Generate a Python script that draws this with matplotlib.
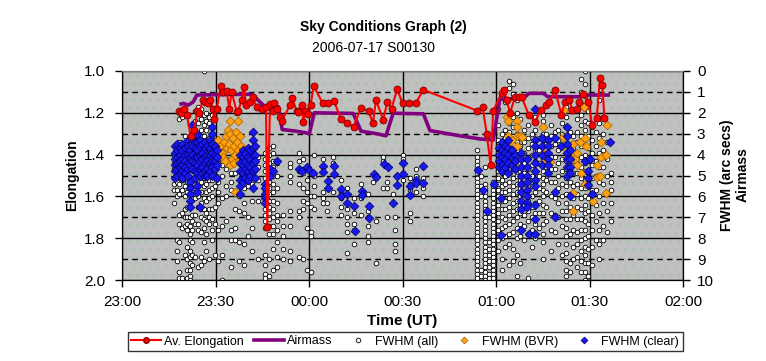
import matplotlib
matplotlib.use('Agg')
import matplotlib.pyplot as plt
from matplotlib.lines import Line2D
from matplotlib.patches import Rectangle

plt.rcParams['font.family'] = ['Liberation Sans', 'DejaVu Sans']

# time axis: minutes after 23:00 UT
time_ticks = [0, 30, 60, 90, 120, 150, 180]
time_labels = ['23:00', '23:30', '00:00', '00:30', '01:00', '01:30', '02:00']

# Av. Elongation (left axis)
elong_t = [18.4, 18.8, 19.9, 20.8, 22.0, 23.2, 24.2, 24.8, 25.9, 26.6, 27.7, 28.2, 29.1, 29.5,
           30.4, 31.7, 32.5, 33.6, 34.4, 35.2, 36.8, 37.3, 38.4, 39.1, 39.8, 41.1, 41.9, 43.2,
           44.8, 46.2, 46.6, 47.5, 48.3, 48.8, 49.6, 50.7, 51.2, 53.9, 54.6, 56.0, 56.6, 57.7,
           58.2, 58.9, 59.6, 60.5, 61.5, 64.4, 66.2, 68.0, 70.2, 72.2, 74.3, 76.6, 79.1, 80.5,
           81.5, 83.8, 85.1, 86.5, 88.3, 90.0, 92.2, 94.2, 96.7, 114.0, 115.7, 117.0, 118.3,
           119.1, 121.8, 122.7, 123.4, 124.5, 126.1, 127.3, 128.2, 130.5, 132.5, 134.4, 136.2,
           137.1, 138.9, 141.0, 142.1, 143.5, 144.5, 145.9, 146.7, 148.0, 149.6, 150.9, 152.3,
           153.4, 154.1, 154.8]
elong_v = [1.19, 1.20, 1.18, 1.21, 1.31, 1.28, 1.19, 1.20, 1.14, 1.15, 1.155, 1.14, 1.18, 1.23,
           1.18, 1.07, 1.10, 1.095, 1.18, 1.10, 1.195, 1.19, 1.14, 1.075, 1.165, 1.15, 1.125, 1.17,
           1.18, 1.17, 1.745, 1.16, 1.19, 1.155, 1.18, 1.22, 1.24, 1.165, 1.13, 1.19, 1.195, 1.165,
           1.245, 1.19, 1.205, 1.165, 1.07, 1.155, 1.152, 1.142, 1.23, 1.25, 1.266, 1.178, 1.19, 1.25,
           1.138, 1.234, 1.15, 1.18, 1.086, 1.155, 1.155, 1.155, 1.09, 1.19, 1.17, 1.30, 1.45,
           1.19, 1.105, 1.09, 1.14, 1.20, 1.125, 1.123, 1.123, 1.21, 1.243, 1.187, 1.163,
           1.15, 1.09, 1.21, 1.147, 1.14, 1.187, 1.18, 1.147, 1.11, 1.147, 1.26, 1.226,
           1.032, 1.067, 1.226]

# Airmass (right axis)
air_t = [18.4, 19.7, 21.3, 22.9, 24.0, 41.6, 45.9, 50.2, 51.4, 55.5, 58.7, 60.1, 61.7, 74.2,
         76.7, 81.7, 84.7, 87.0, 96.7, 98.8, 108.4, 114.8, 119.1, 121.2, 128.7, 130.6, 135.2,
         136.6, 146.9, 147.5, 156.6]
air_v = [1.6, 1.55, 1.63, 1.47, 1.15, 1.11, 1.71, 1.71, 2.8, 2.87, 2.95, 3.0, 2.0, 2.03,
         2.88, 3.0, 3.1, 2.02, 2.05, 2.85, 3.1, 3.25, 3.3, 1.35, 1.31, 1.07, 1.07,
         1.23, 1.23, 1.15, 1.15]

# FWHM (all) - one list of values per time column
all_t = [16.8, 17.6, 18.4, 19.3, 20.2, 21.0, 21.8, 22.6, 23.4, 24.3, 25.2, 26.2, 27.1, 28.0,
         28.9, 29.8, 30.9, 32.0, 33.5, 35.0, 36.3, 37.5, 39.0, 40.3, 41.8, 43.5, 46.0, 47.2,
         48.4, 49.7, 51.5, 53.9, 56.9, 58.2, 59.5, 60.5, 61.6, 64.4, 65.7, 67.8, 70.2, 72.3,
         74.4, 76.6, 79.0, 80.6, 81.5, 83.8, 85.1, 87.0, 87.6, 90.0, 92.4, 94.3, 96.7,
         113.8, 115.2, 116.4, 117.6, 119.0, 120.8, 121.9, 123.0, 124.2, 125.4, 126.6, 127.8,
         129.0, 130.2, 131.4, 132.6, 133.8, 135.0, 136.2, 137.5, 138.8, 140.0, 141.2, 142.4,
         143.6, 144.8, 146.0, 147.2, 148.4, 149.6, 150.8, 152.0, 153.2, 154.4, 155.6, 157.0]
all_f = [
    [4.0, 4.4, 4.7, 5.1, 5.4, 5.7, 6.3],
    [3.5, 3.9, 4.3, 4.6, 5.0, 5.3, 5.7, 6.0, 8.1, 8.6, 9.1],
    [2.0, 2.3, 3.4, 3.9, 4.4, 4.9, 5.4, 5.9, 6.9, 7.3, 8.2, 9.6, 9.9],
    [2.2, 3.6, 4.2, 4.8, 5.2, 5.7, 6.8, 7.5, 9.9],
    [3.1, 3.5, 4.6, 5.1, 5.5, 6.0, 6.6, 7.0, 7.4, 8.8],
    [4.8, 5.3, 5.8, 6.5, 7.0, 7.3, 7.6, 8.4, 9.0, 9.5, 9.9],
    [5.5, 6.2, 7.0, 7.4, 7.8, 8.1, 8.6, 8.9, 9.2, 9.5, 9.8, 10.0],
    [2.6, 3.0, 6.9, 7.2, 7.6, 8.2, 8.8, 9.3],
    [1.9, 2.4, 3.5, 4.4, 5.2, 5.6, 6.1, 6.9, 7.3, 8.9],
    [1.7, 2.0, 2.5, 3.0, 3.6, 4.0, 4.5, 5.0, 5.5, 6.0, 6.5, 7.3, 7.6, 9.4],
    [1.8, 2.3, 2.8, 3.3, 3.8, 4.3, 4.7, 5.3, 5.8, 6.3, 6.6, 7.0, 7.7, 8.9, 9.3],
    [0.0, 2.1, 2.6, 3.1, 3.6, 4.1, 4.6, 5.1, 5.5, 6.1, 6.6, 7.1, 7.5, 8.2, 9.1],
    [2.0, 2.4, 2.8, 3.4, 4.0, 4.4, 4.9, 5.4, 5.8, 6.2, 6.8, 7.2, 7.8, 8.6],
    [2.2, 2.5, 3.2, 3.7, 4.2, 4.8, 5.2, 5.7, 6.1, 6.6, 7.0, 7.3, 9.0],
    [2.1, 3.0, 3.5, 4.1, 4.7, 5.2, 5.6, 6.0, 6.6, 7.1, 7.6, 8.1],
    [3.3, 3.9, 4.5, 5.0, 5.5, 6.5, 7.3, 8.8],
    [4.3, 5.3, 5.8, 6.3, 7.6, 9.1],
    [4.5, 5.0, 6.1, 7.4, 8.8, 10.0],
    [4.2, 4.7, 5.5, 6.0, 7.2],
    [4.9, 5.3, 5.7, 7.6, 8.1, 9.4],
    [4.1, 4.9, 6.6, 7.5, 8.1],
    [6.0, 6.7, 8.2, 9.1],
    [5.6, 6.3, 6.8, 8.3, 9.3],
    [4.0, 4.6, 5.5, 7.0, 7.9],
    [4.8, 5.4, 6.2, 7.5, 8.6],
    [4.1, 4.6, 5.2, 6.2, 9.0],
    [3.9, 4.2, 4.5, 4.8, 5.1, 5.4, 5.7, 6.0, 6.3, 6.6, 6.9, 7.2, 7.5, 8.8, 9.3, 9.7, 9.9],
    [3.7, 4.0, 4.4, 4.7, 5.0, 5.3, 5.6, 5.9, 6.2, 6.5, 6.8, 7.1, 7.4, 7.8, 9.0, 9.8],
    [3.6, 3.9, 4.3, 4.6, 5.0, 5.4, 5.8, 6.2, 6.6, 7.0, 7.4, 7.8, 8.5, 9.5],
    [4.4, 5.0, 5.6, 6.3, 6.9, 7.2, 7.6, 8.2, 8.9, 9.4],
    [6.9, 7.4, 7.9, 8.5, 9.0],
    [4.4, 4.6, 5.0, 5.3, 6.7, 7.4, 8.6, 9.1],
    [3.9, 4.3, 4.8, 5.4, 6.7, 7.0, 8.9],
    [4.2, 4.9, 5.6, 6.2, 6.6, 9.0],
    [5.2, 5.8, 6.3, 7.5, 9.5],
    [6.0, 6.5, 7.7, 7.9, 9.6],
    [4.0, 5.0, 5.5, 6.0, 6.6],
    [4.2, 4.6, 5.8, 6.1, 6.3],
    [6.3, 6.7],
    [4.1, 4.4, 5.8],
    [5.2, 5.8, 6.1, 6.5, 6.9],
    [5.6, 6.6, 7.0, 7.3, 7.7, 8.7],
    [6.1, 6.8, 7.3, 7.6, 8.3],
    [5.4, 6.1, 6.9],
    [5.9, 6.7, 7.0, 7.4, 7.9, 8.2],
    [5.3],
    [7.2, 9.2],
    [4.1, 4.3, 5.6],
    [5.3, 5.6, 7.0],
    [5.9],
    [7.0, 7.6, 8.3, 8.6],
    [4.0, 4.2, 4.9, 5.2],
    [5.1, 5.4, 5.7, 6.8, 7.2],
    [4.7, 5.0, 5.3, 5.8],
    [5.1, 5.6, 6.0],
    [3.8, 4.1, 4.3, 4.5, 4.7, 4.9, 5.1, 5.3, 5.5, 5.7, 5.9, 6.1, 6.3, 6.5, 6.7, 6.9, 7.1,
     7.3, 7.5, 7.7, 7.9, 8.1, 8.3, 8.5, 8.7, 8.9, 9.1, 9.3, 9.5, 9.7, 9.9],
    [5.0, 5.5, 6.0, 9.5, 9.8],
    [4.6, 5.4, 5.6, 5.8, 6.0, 6.2, 6.4, 6.6, 6.8, 7.0, 7.2, 7.4, 7.6, 7.8, 8.0, 8.2, 8.4,
     8.6, 8.8, 9.0, 9.2, 9.4, 9.6, 9.8, 10.0],
    [7.0, 8.2, 8.5, 8.8, 9.1, 9.4, 9.7, 9.9],
    [5.3, 5.5, 5.7, 5.9, 6.1, 6.3, 6.5, 6.7, 6.9, 7.1, 7.3, 7.5, 7.7, 7.9, 8.1, 8.3, 8.5,
     8.7, 8.9, 9.1, 9.3, 9.5, 9.7, 9.9],
    [1.8, 2.6, 3.3, 3.6, 3.9, 4.2, 4.5, 4.8, 5.1, 5.4, 5.7, 6.0, 6.4, 6.8, 7.2, 7.6, 8.1, 8.6],
    [1.2, 3.0, 3.4, 3.7, 4.0, 4.3, 4.6, 4.9, 5.2, 5.5, 5.8, 6.2, 6.6, 7.0, 7.5, 8.0, 9.0, 9.5],
    [0.9, 1.5, 2.8, 3.2, 3.5, 3.9, 4.3, 4.7, 5.0, 5.4, 5.8, 6.2, 6.6, 7.1, 7.4, 7.9, 8.4],
    [0.5, 0.8, 2.5, 2.9, 3.3, 3.7, 4.1, 4.5, 4.9, 5.3, 5.7, 6.1, 6.5, 6.9, 7.3, 7.8, 8.3, 9.3],
    [0.6, 1.1, 2.2, 2.7, 3.1, 3.5, 3.9, 4.3, 4.7, 5.1, 5.5, 5.9, 6.3, 6.7, 7.2, 7.7, 8.5, 9.1],
    [1.4, 2.0, 3.0, 3.4, 3.8, 4.2, 4.6, 5.0, 5.4, 5.8, 6.2, 6.6, 7.0, 7.5, 8.0, 8.8, 9.8],
    [2.3, 3.2, 3.6, 4.0, 4.4, 4.8, 5.2, 5.6, 6.0, 6.4, 6.8, 7.3, 7.9, 9.2],
    [2.8, 3.4, 3.9, 4.4, 4.9, 5.4, 5.9, 6.4, 6.9, 7.4, 8.1],
    [2.6, 3.2, 3.7, 4.2, 4.7, 5.2, 5.7, 6.2, 6.7, 7.2, 7.8, 9.9],
    [3.0, 3.5, 4.0, 4.5, 5.0, 5.5, 6.0, 6.5, 7.0, 7.6, 8.4],
    [2.2, 2.8, 3.3, 3.8, 4.3, 4.8, 5.3, 5.8, 6.3, 6.8, 7.3, 8.0],
    [3.2, 3.8, 4.4, 5.0, 5.6, 6.2, 6.8, 7.5],
    [2.1, 2.4, 2.7, 3.0, 3.3, 3.6, 3.9, 4.2, 4.5, 4.8, 5.1, 5.4, 5.7, 6.0, 6.4, 6.8, 7.3,
     7.8, 8.2, 9.0],
    [3.0, 3.5, 4.0, 4.6, 5.2, 5.8, 6.5, 7.2],
    [2.6, 3.1, 3.6, 4.1, 4.7, 5.3, 6.0, 6.8, 7.6, 8.6],
    [2.9, 3.5, 4.1, 4.7, 5.3, 6.1, 6.9, 7.7],
    [2.8, 3.3, 3.8, 4.4, 5.0, 5.6, 6.3, 7.0, 8.3],
    [2.5, 3.0, 3.6, 4.2, 4.8, 5.4, 6.0, 6.7, 7.4, 8.8],
    [1.7, 2.2, 2.7, 3.1, 3.5, 3.9, 4.3, 4.7, 5.1, 5.5, 5.9, 6.3, 6.7, 7.1, 7.5, 7.9, 8.3,
     8.7, 9.1, 9.5, 9.8],
    [2.9, 3.5, 4.1, 4.7, 5.3, 5.9, 6.5, 7.1, 7.8, 9.2, 9.6],
    [3.1, 3.7, 4.3, 4.9, 5.5, 6.1, 6.9, 7.6, 8.4, 9.0],
    [2.3, 2.9, 3.4, 3.9, 4.4, 4.9, 5.4, 5.9, 6.5, 7.1, 7.7, 8.3, 8.9, 9.4],
    [0.4, 1.0, 1.6, 2.1, 2.6, 3.1, 3.6, 4.1, 4.6, 5.1, 5.6, 6.1, 6.6, 7.1, 7.6, 8.1, 8.6,
     9.1, 9.6],
    [0.0, 0.6, 1.2, 1.8, 2.4, 2.8, 3.2, 3.6, 4.0, 4.4, 4.8, 5.2, 5.6, 6.0, 6.4, 6.8, 7.2,
     7.6, 8.0, 8.4, 8.8, 9.2, 9.6, 10.0],
    [1.9, 2.5, 3.1, 3.7, 4.3, 4.9, 5.5, 6.1, 6.7, 7.3, 7.9, 8.5, 9.2, 9.8],
    [2.7, 3.3, 3.9, 4.5, 5.1, 5.7, 6.3, 6.9, 7.6, 8.4, 9.3],
    [2.9, 3.6, 4.3, 5.0, 5.7, 6.4, 7.2, 8.1],
    [1.4, 2.5, 3.2, 3.9, 4.6, 5.3, 6.0, 6.8, 7.6, 8.3, 9.0],
    [2.2, 3.0, 3.8, 4.6, 5.4, 6.3, 7.4, 8.1],
    [3.4, 4.2, 5.0, 5.9, 6.7, 7.7],
    [4.9, 5.3, 5.7, 6.3, 7.2],
]

# FWHM (clear) - per time column
clear_t = [17.0, 17.8, 18.6, 19.4, 20.2, 21.1, 21.8, 22.5, 23.3, 24.1, 24.9, 25.7, 26.5, 27.3,
           28.1, 28.9, 29.7, 30.4, 38.0, 38.8, 39.6, 40.4, 41.2, 42.0, 42.8, 46.0, 47.5, 48.5,
           49.6, 56.9, 57.6, 59.2, 60.1, 61.2, 64.5, 66.2, 68.0, 70.2, 72.3, 74.4, 74.6, 76.9,
           79.3, 80.7, 81.5, 84.1, 85.4, 87.0, 88.3, 90.2, 92.4, 94.4, 96.7, 114.3, 115.9,
           117.0, 119.5, 121.0, 121.6, 122.0, 123.0, 124.0, 125.0, 126.2, 127.9, 129.8, 130.7,
           132.4, 134.6, 136.8, 138.9, 141.0, 142.8, 143.8, 148.5, 149.6, 150.1, 150.7, 156.6]
clear_f = [
    [3.6, 3.9, 4.2, 4.5, 4.8, 5.1], [3.5, 3.8, 4.1, 4.4, 4.7, 5.0], [3.7, 4.0, 4.3, 4.6, 4.9],
    [3.5, 3.8, 4.2, 4.5, 4.8, 5.1], [3.7, 4.0, 4.3, 4.6, 4.9], [3.3, 3.6, 4.0, 4.4, 4.7, 5.0],
    [3.8, 4.1, 4.5, 5.3, 5.6, 5.9, 6.2, 6.5], [2.6, 3.2, 3.6, 4.0, 4.3, 4.7],
    [3.4, 3.7, 4.1, 4.4, 4.8, 5.1], [3.0, 3.4, 3.8, 4.1, 4.5, 4.9, 5.5, 5.8],
    [3.3, 3.6, 4.0, 4.3, 4.7, 5.0, 6.5], [3.5, 3.9, 4.2, 4.6, 4.9],
    [3.4, 3.7, 4.1, 4.4, 4.8, 5.0], [3.6, 4.0, 4.3, 4.7, 5.0], [3.3, 3.7, 4.0, 4.4, 4.8],
    [2.7, 3.0, 3.5, 3.9, 4.3, 4.6, 5.0], [3.6, 4.0, 4.3, 4.7], [3.8, 4.1, 4.5, 5.1],
    [4.0, 4.4, 4.8, 5.2, 5.5, 5.9], [3.8, 4.1, 4.5, 4.9, 5.3], [3.9, 4.3, 4.7, 5.1],
    [3.7, 4.1, 4.5, 4.8, 5.2], [3.8, 4.2, 4.6, 5.0], [2.9, 3.3, 3.7, 4.0, 4.4, 4.8, 5.6],
    [3.6, 4.0, 4.3, 4.7, 5.1], [5.4, 5.6, 5.9, 6.1, 6.3], [4.7, 5.0], [4.8],
    [4.3], [4.7], [4.8], [4.6], [4.75], [4.9], [4.55, 4.85], [5.25, 5.6], [4.55, 4.95],
    [5.65, 6.0], [5.9, 6.3], [6.45], [7.65], [5.75, 5.95], [6.45, 7.05], [4.95], [5.05],
    [4.45], [4.6], [6.3], [5.0, 5.45], [4.4, 4.95], [5.5, 5.95], [5.2, 5.35], [4.55, 5.35],
    [4.75], [5.7], [6.7], [5.4], [3.7, 4.0, 4.3, 4.6], [7.85, 6.1], [3.4, 3.8, 4.1, 4.5, 4.8],
    [3.6, 3.9, 4.2, 4.6], [3.3, 3.7, 4.0, 4.4, 4.9], [3.8, 4.1, 4.5], [4.0, 4.3, 4.7],
    [3.9, 4.2, 4.6, 5.0, 5.4, 5.8, 6.2, 6.6, 7.6], [4.2, 4.6, 5.0, 5.3, 5.7, 6.0, 6.3, 6.5],
    [7.8], [1.8, 3.3, 3.6, 4.0, 4.4, 4.8, 5.2, 5.5, 6.4, 7.1, 7.8], [3.2, 3.6, 4.0, 4.5],
    [3.3, 3.6, 3.9, 4.2, 4.5, 4.9], [3.2, 5.8, 7.0], [3.6], [2.7, 3.1, 3.5, 3.9, 4.2, 4.6, 5.0],
    [3.8, 4.2, 4.6, 4.9, 6.0], [4.3], [4.8, 5.1, 5.45], [4.2], [5.9], [3.4],
]

# FWHM (BVR)
bvr_t = [30.9, 31.5, 32.0, 32.3, 32.6, 33.0, 33.3, 33.6, 33.9, 34.2, 34.5, 34.7, 34.8, 35.1,
         35.4, 35.7, 35.9, 36.0, 36.1, 36.4, 36.7, 37.0, 37.3, 37.3, 37.6, 37.9, 38.2, 38.5,
         123.6, 123.9, 124.0, 124.0, 124.0, 124.0, 125.0, 125.0, 125.3, 126.6, 126.6, 126.6,
         126.6, 126.6, 126.6, 127.7, 128.2, 135.2, 135.0, 135.3, 135.7, 137.3, 141.4, 141.6,
         141.8, 144.8, 144.8, 144.7, 144.7, 145.5, 146.1, 146.1, 147.0, 147.2, 148.3, 148.5,
         148.8, 148.5, 151.2, 152.3, 152.3, 153.6, 153.6, 153.4, 155.3, 155.3, 155.6]
bvr_f = [3.3, 3.6, 3.9, 4.1, 3.4, 4.3, 3.1, 3.7, 2.8, 3.5, 4.5, 2.4, 3.0, 3.8,
         4.2, 3.2, 4.4, 3.6, 5.8, 4.0, 2.9, 3.4, 2.4, 3.8, 4.3, 3.1, 3.6, 4.1,
         2.2, 2.4, 3.1, 3.5, 3.9, 4.3, 3.3, 3.8, 4.5, 2.4, 2.7, 3.1,
         3.6, 4.1, 4.6, 3.1, 3.15, 2.7, 3.9, 4.0, 4.3, 4.35, 3.6, 3.15,
         1.85, 3.5, 4.1, 5.85, 6.7, 4.2, 3.9, 4.5, 3.4, 4.9, 1.7, 3.2,
         3.6, 5.4, 6.2, 4.5, 5.05, 3.4, 4.1, 5.0, 4.0, 5.85, 2.6]

W, H = 766, 361
fig = plt.figure(figsize=(W / 100, H / 100), dpi=100)
ax = fig.add_axes([122 / W, 1 - 280 / H, 561 / W, 209 / H])
ax.set_facecolor('#c0c0c0')
ax.add_patch(Rectangle((0, 0), 1, 1, transform=ax.transAxes, facecolor='none',
                       edgecolor='#a9c2a9', hatch='..', lw=0, zorder=0))

# FWHM / airmass axis (right side)
ax.set_xlim(0, 180)
ax.set_ylim(10, 0)
ax.set_xticks(time_ticks, time_labels)
ax.set_yticks([0, 2, 4, 6, 8, 10])
ax.set_yticks([1, 3, 5, 7, 9], ['1', '3', '5', '7', '9'], minor=True)
ax.grid(axis='y', which='major', color='black', lw=1)
ax.grid(axis='y', which='minor', color='black', lw=1, ls=(0, (4, 3)))
ax.grid(axis='x', color='black', lw=1)
ax.set_axisbelow(True)

xs, ys = [], []
for t, vals in zip(all_t, all_f):
    xs += [t] * len(vals)
    ys += vals
ax.scatter(xs, ys, s=11, marker='o', facecolor='white', edgecolor='black', lw=0.6, zorder=3)
ax.scatter(bvr_t, bvr_f, s=20, marker='D', facecolor='#ffa010', edgecolor='#a06000', lw=0.5, zorder=4)
xs, ys = [], []
for t, vals in zip(clear_t, clear_f):
    xs += [t] * len(vals)
    ys += vals
ax.scatter(xs, ys, s=20, marker='D', facecolor='#1818f0', edgecolor='#000060', lw=0.5, zorder=5)
ax.plot(air_t, air_v, color='#800080', lw=2.6, zorder=6, solid_capstyle='butt')

# elongation axis on the left
axe = ax.twinx()
axe.set_ylim(2.0, 1.0)
axe.set_yticks([1.0, 1.2, 1.4, 1.6, 1.8, 2.0], ['1.0', '1.2', '1.4', '1.6', '1.8', '2.0'])
axe.plot(elong_t, elong_v, color='#ff0000', lw=1.5, marker='o', ms=5,
         mfc='#ff0000', mec='#800000', mew=0.6, zorder=7)

for a in (ax, axe):
    for s in ('left', 'right', 'bottom'):
        a.spines[s].set_color('black')
    a.spines['top'].set_color('#808080')
ax.tick_params(axis='x', which='major', direction='out', length=5, width=1, pad=6, labelsize=11)
ax.tick_params(axis='y', which='both', direction='out', length=5, width=1, pad=5, labelsize=11,
               left=False, labelleft=False, right=True, labelright=True)
axe.tick_params(axis='y', direction='out', length=5, width=1, pad=7, labelsize=11,
                left=True, labelleft=True, right=False, labelright=False)

fig.text(383 / W, 1 - 27 / H, 'Sky Conditions Graph (2)', ha='center', va='center',
         fontsize=10, fontweight='bold')
fig.text(373 / W, 1 - 48 / H, '2006-07-17 S00130', ha='center', va='center', fontsize=10)
fig.text(72 / W, 1 - 175 / H, 'Elongation', rotation=90, ha='center', va='center',
         fontsize=10, fontweight='bold')
fig.text(735 / W, 1 - 175 / H, 'FWHM (arc secs)\nAirmass', rotation=90, ha='center',
         va='center', fontsize=10, fontweight='bold', multialignment='center')
fig.text(402 / W, 1 - 321 / H, 'Time (UT)', ha='center', va='center', fontsize=11,
         fontweight='bold')

handles = [
    Line2D([], [], color='#ff0000', lw=1.5, marker='o', ms=4, mfc='#ff0000', mec='#800000'),
    Line2D([], [], color='#800080', lw=2.6),
    Line2D([], [], ls='none', marker='o', ms=3.3, mfc='white', mec='black', mew=0.6),
    Line2D([], [], ls='none', marker='D', ms=3.5, mfc='#ffa010', mec='#a06000', mew=0.5),
    Line2D([], [], ls='none', marker='D', ms=3.5, mfc='#1818f0', mec='#000060', mew=0.5),
]
labels = ['Av. Elongation', 'Airmass', 'FWHM (all)', 'FWHM (BVR)', 'FWHM (clear)']
leg = fig.legend(handles, labels, loc='center', bbox_to_anchor=(405 / W, 1 - 341.5 / H),
                 ncol=5, fontsize=9, frameon=True, fancybox=False, edgecolor='black',
                 handlelength=2.4, handletextpad=0.2, columnspacing=0.85, borderpad=0.3,
                 numpoints=1)
leg.get_frame().set_linewidth(1)

fig.savefig('out.png', dpi=100)
